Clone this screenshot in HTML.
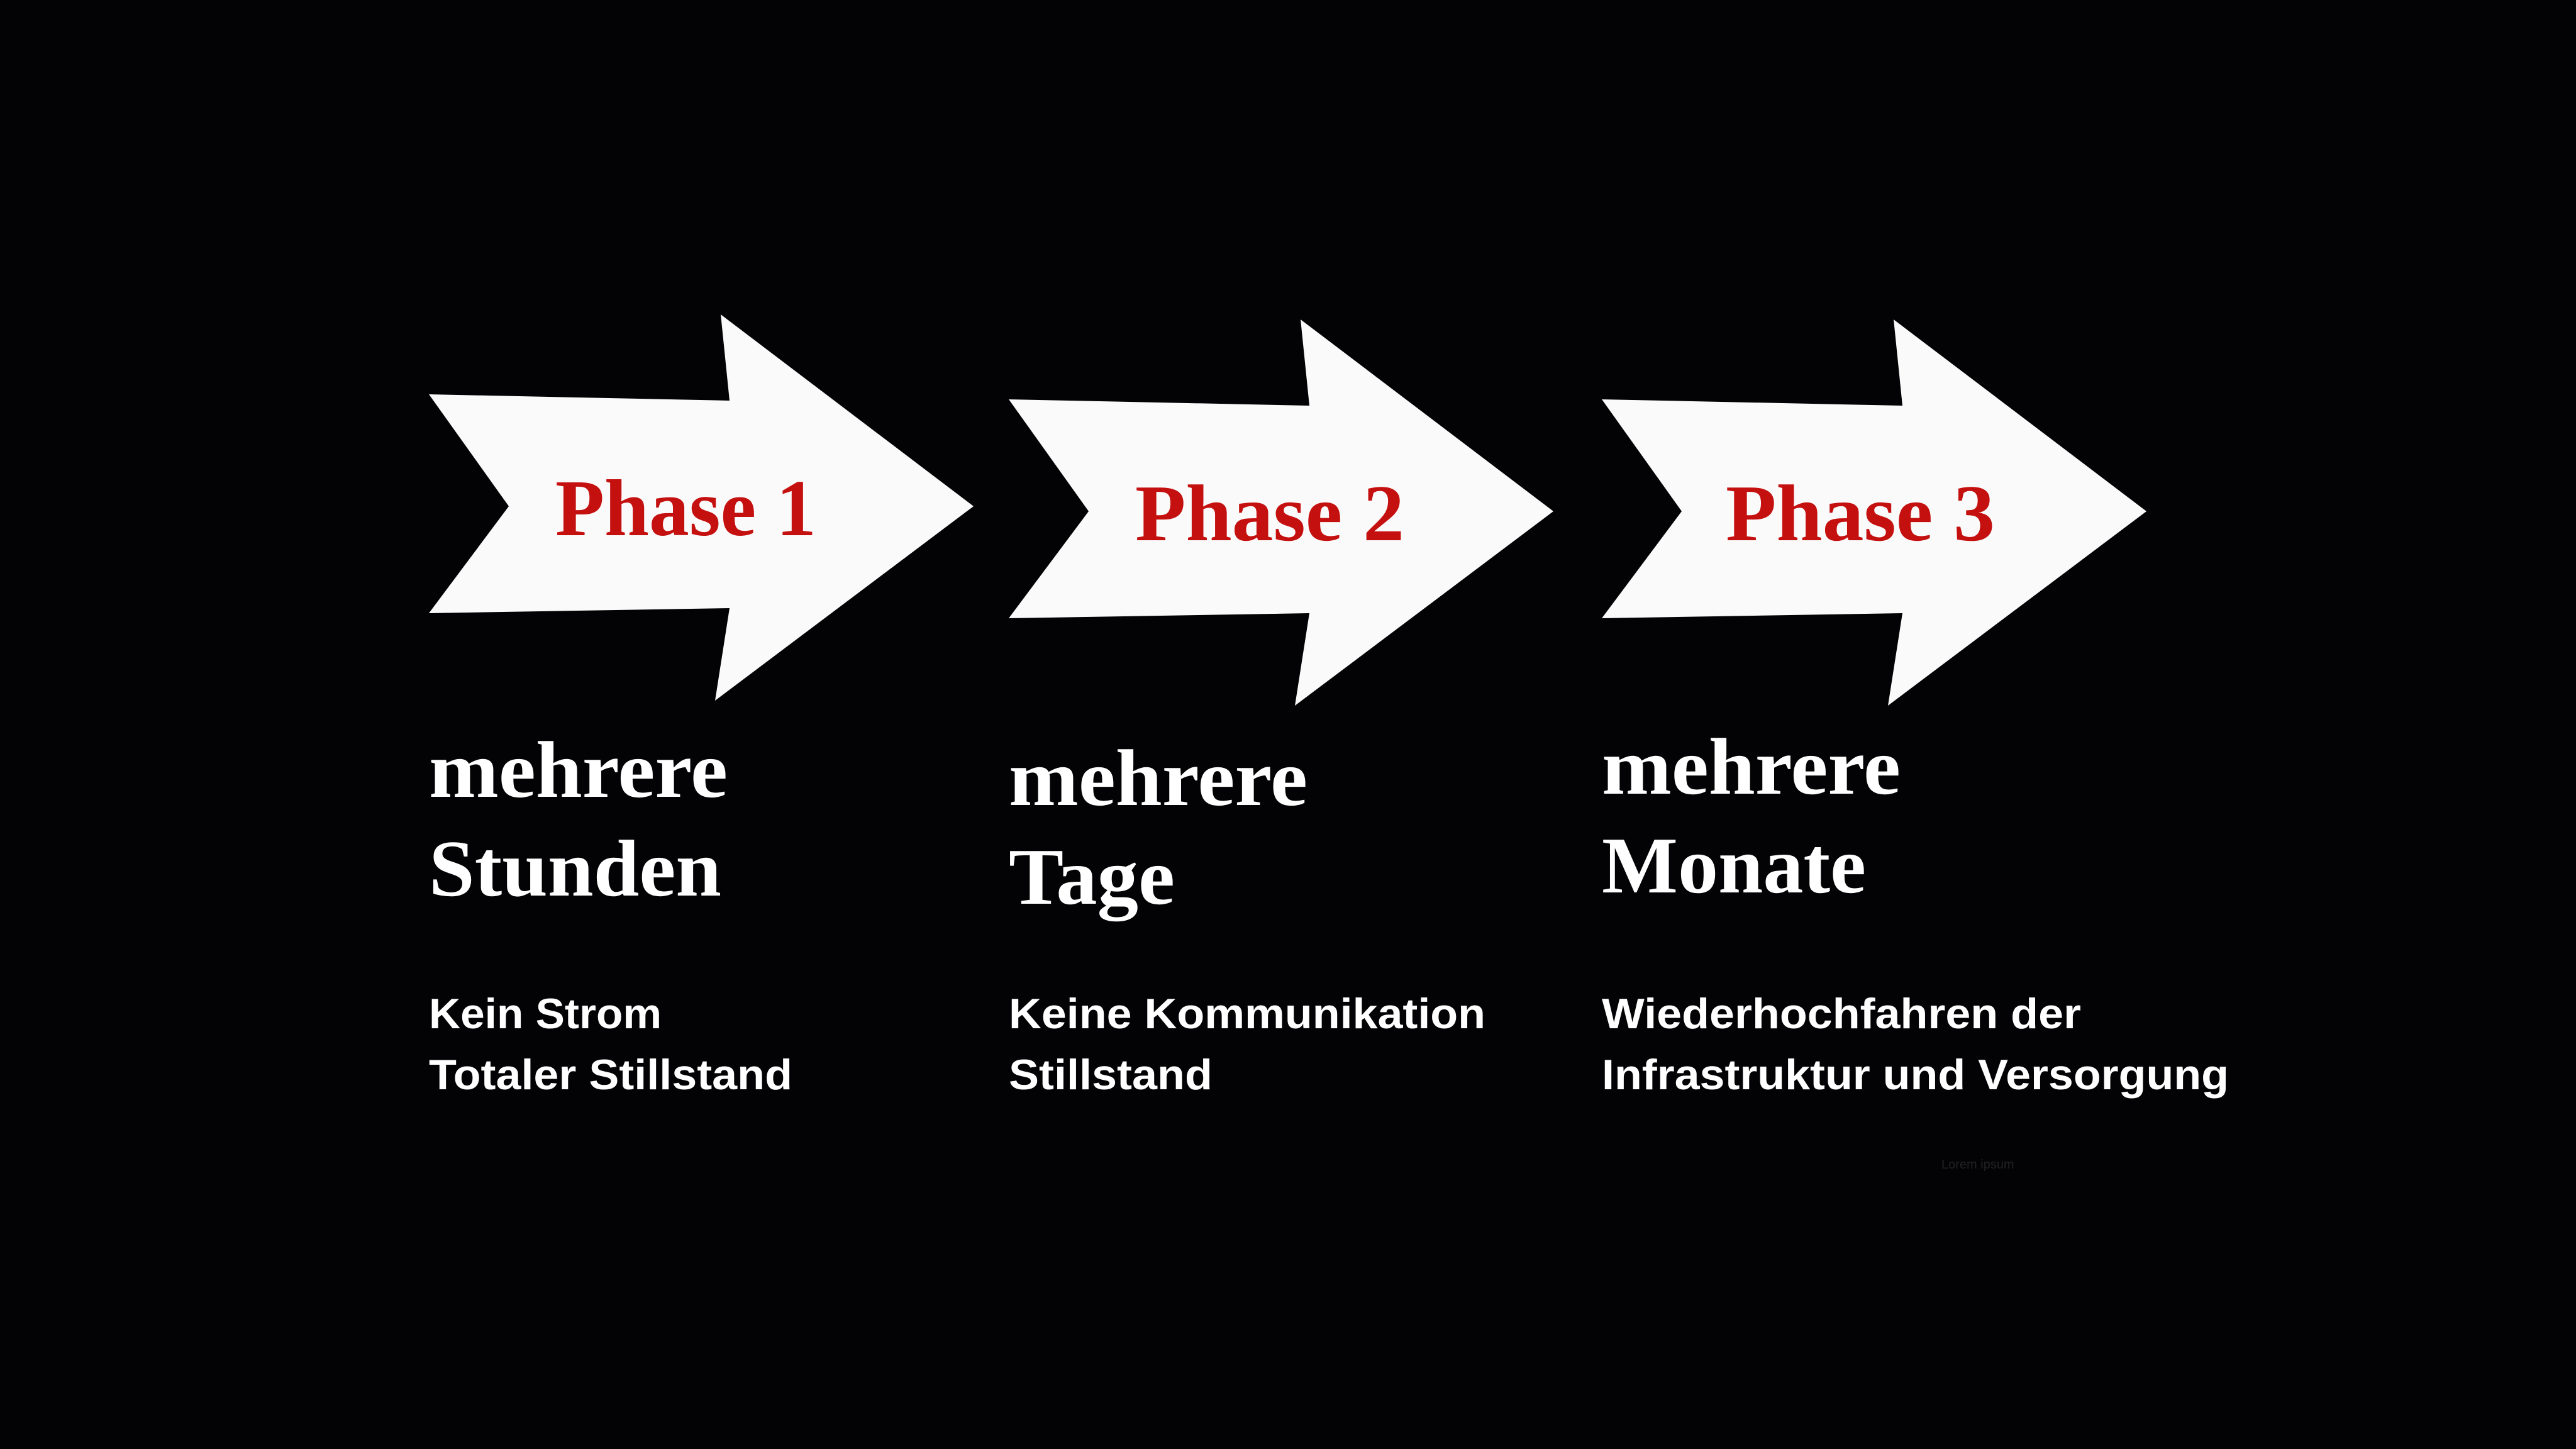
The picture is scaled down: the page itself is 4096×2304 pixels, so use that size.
<!DOCTYPE html>
<html><head><meta charset="utf-8"><style>
html,body{margin:0;padding:0;background:#030305;}
svg{display:block}
.ph{font-family:"Liberation Serif",serif;font-weight:bold;font-size:128px;fill:#c4100f}
.big{font-family:"Liberation Serif",serif;font-weight:bold;font-size:128px;fill:#fff}
.sm{font-family:"Liberation Sans",sans-serif;font-weight:bold;font-size:68px;fill:#fff}
</style></head><body>
<svg width="4096" height="2304" viewBox="0 0 4096 2304" xmlns="http://www.w3.org/2000/svg">
<rect width="4096" height="2304" fill="#030305"/>
<g fill="#fafafa">
<polygon points="682,627 1160,637 1146,500 1548,805 1137,1114 1160,967 682,975 809,805"/>
<polygon transform="translate(922,8)" points="682,627 1160,637 1146,500 1548,805 1137,1114 1160,967 682,975 809,805"/>
<polygon transform="translate(1865,8)" points="682,627 1160,637 1146,500 1548,805 1137,1114 1160,967 682,975 809,805"/>
</g>
<text class="ph" x="883" y="851" textLength="415" lengthAdjust="spacingAndGlyphs">Phase 1</text>
<text class="ph" x="1805" y="859" textLength="428" lengthAdjust="spacingAndGlyphs">Phase 2</text>
<text class="ph" x="2744" y="859" textLength="428" lengthAdjust="spacingAndGlyphs">Phase 3</text>

<text class="big" x="682" y="1267" textLength="475" lengthAdjust="spacingAndGlyphs">mehrere</text>
<text class="big" x="682" y="1424" textLength="465" lengthAdjust="spacingAndGlyphs">Stunden</text>
<text class="big" x="1604" y="1280" textLength="475" lengthAdjust="spacingAndGlyphs">mehrere</text>
<text class="big" x="1604" y="1437" textLength="264" lengthAdjust="spacingAndGlyphs">Tage</text>
<text class="big" x="2547" y="1262" textLength="475" lengthAdjust="spacingAndGlyphs">mehrere</text>
<text class="big" x="2547" y="1419" textLength="420" lengthAdjust="spacingAndGlyphs">Monate</text>

<text class="sm" x="682" y="1635" textLength="370" lengthAdjust="spacingAndGlyphs">Kein Strom</text>
<text class="sm" x="682" y="1732" textLength="578" lengthAdjust="spacingAndGlyphs">Totaler Stillstand</text>
<text class="sm" x="1604" y="1635" textLength="758" lengthAdjust="spacingAndGlyphs">Keine Kommunikation</text>
<text class="sm" x="1604" y="1732" textLength="324" lengthAdjust="spacingAndGlyphs">Stillstand</text>
<text class="sm" x="2547" y="1635" textLength="762" lengthAdjust="spacingAndGlyphs">Wiederhochfahren der</text>
<text class="sm" x="2547" y="1732" textLength="997" lengthAdjust="spacingAndGlyphs">Infrastruktur und Versorgung</text>

<text x="3087" y="1858" font-family="Liberation Sans, sans-serif" font-size="20" fill="#222">Lorem ipsum</text>
</svg>
</body></html>
